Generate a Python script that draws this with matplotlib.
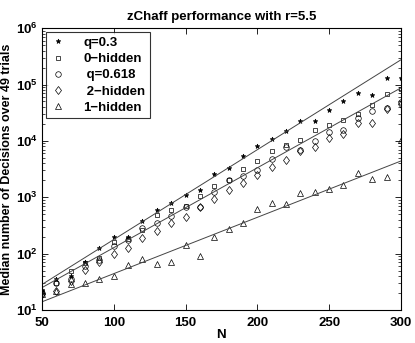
import math
import matplotlib
matplotlib.use('Agg')
import matplotlib.pyplot as plt
from matplotlib.ticker import LogLocator, FixedLocator, NullFormatter, FuncFormatter

plt.rcParams['font.family'] = ['Liberation Sans', 'DejaVu Sans']
plt.rcParams['font.weight'] = 'bold'
plt.rcParams['mathtext.fontset'] = 'custom'
plt.rcParams['mathtext.bf'] = 'Liberation Sans:bold'
plt.rcParams['mathtext.rm'] = 'Liberation Sans:bold'

# datos
n_vals = [50, 60, 70, 80, 90, 100, 110, 120, 130, 140, 150, 160, 170,
          180, 190, 200, 210, 220, 230, 240, 250, 260, 270, 280, 290, 300]

q03 = [23, 35, 40, 71, 126, 197, 198, 376, 600, 790, 1080, 1340, 2570,
       3350, 5320, 8090, 10900, 14800, 23000, 22800, 34700, 50700, 70100,
       66500, 131000, 131000]
hidden0 = [21, 30, 49, 68, 85, 161, 181, 261, 480, 585, 690, 1050, 1610,
           2000, 3240, 4390, 6540, 8300, 10200, 15350, 18800, 23100, 30000,
           42500, 68400, 84000]
q0618 = [20, 30, 35, 60, 78, 135, 178, 290, 343, 460, 685, 680, 1240,
         2050, 2350, 3000, 4680, 7800, 6980, 9800, 14300, 15400, 25500,
         33600, 38000, 48600]
hidden2 = [19, 22, 33, 52, 71, 100, 126, 186, 250, 343, 448, 660, 918,
           1330, 1820, 2520, 3450, 4520, 6600, 7930, 11400, 13000, 20600,
           20600, 37000, 45000]
hidden1 = [19, 22, 29, 30, 36, 40, 62, 82, 65, 72, 142, 92, 199, 270, 350,
           613, 805, 760, 1190, 1260, 1380, 1630, 2700, 2100, 2280, 10200]

# rectas de ajuste (extremos en N=50 y N=300)
fit_n = [50, 300]
fit_top = [28.4, 274000]
fit_mid = [25, 87000]
fit_low = [14, 4400]

fig = plt.figure(figsize=(4.15, 3.43), dpi=100)
ax = fig.add_axes([0.101, 0.096, 0.865, 0.822])

ms = 3.5
ax.plot(n_vals, q03, '*', color='black', ms=ms, mew=0.5, label='q=0.3')
ax.plot(n_vals, hidden0, 's', mfc='none', mec='black', ms=ms, mew=0.5, label='0\u2212hidden')
ax.plot(n_vals, q0618, 'o', mfc='none', mec='black', ms=ms + 0.5, mew=0.5, label=' q=0.618')
ax.plot(n_vals, hidden2, 'd', mfc='none', mec='black', ms=ms + 1, mew=0.5, label=' 2\u2212hidden')
ax.plot(n_vals, hidden1, '^', mfc='none', mec='black', ms=ms + 1, mew=0.5, label='1\u2212hidden')

for fit in (fit_top, fit_mid, fit_low):
    ax.plot(fit_n, fit, '-', color='#444444', lw=0.7)

ax.set_yscale('log')
ax.set_xlim(50, 300)
ax.set_ylim(10, 1e6)
ax.xaxis.set_major_locator(FixedLocator([50, 100, 150, 200, 250, 300]))
ax.yaxis.set_major_locator(LogLocator(base=10, numticks=10))
ax.yaxis.set_minor_locator(LogLocator(base=10, subs=range(2, 10), numticks=10))
ax.yaxis.set_minor_formatter(NullFormatter())
ax.yaxis.set_major_formatter(FuncFormatter(lambda v, p: r'$\mathbf{10^{%d}}$' % round(math.log10(v))))

ax.tick_params(which='both', direction='in', top=True, right=True, labelsize=9.5)
ax.tick_params(which='major', length=4, width=0.6)
ax.tick_params(which='minor', length=2, width=0.5)
ax.tick_params(axis='x', pad=5)
ax.tick_params(axis='y', pad=3)
for lab in ax.get_xticklabels():
    lab.set_fontweight('bold')
for sp in ax.spines.values():
    sp.set_linewidth(0.8)

ax.set_title('zChaff performance with r=5.5', fontsize=9.5, fontweight='bold', pad=6)
ax.set_xlabel('N', fontsize=9.5, fontweight='bold', labelpad=0)
ax.set_ylabel('Median number of Decisions over 49 trials', fontsize=9, fontweight='bold', labelpad=2)

leg = ax.legend(loc='upper left', fontsize=9.5, frameon=True, fancybox=False,
                edgecolor='black', handlelength=1.2, handletextpad=1.3,
                borderpad=0.35, labelspacing=0.3, borderaxespad=0.3)
leg.get_frame().set_linewidth(0.8)

fig.savefig('out.png', dpi=100)
